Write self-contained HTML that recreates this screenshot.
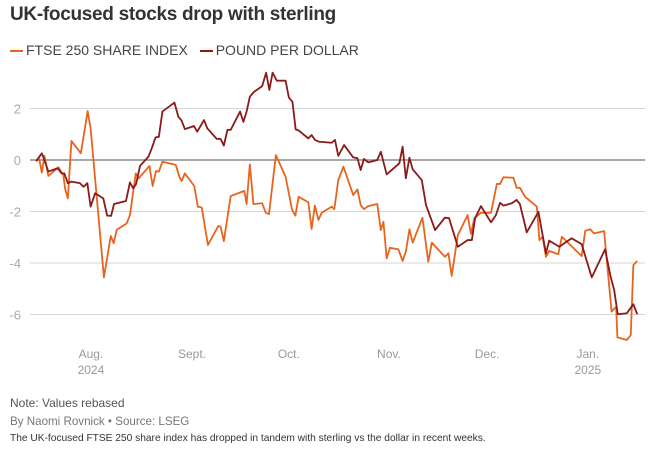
<!DOCTYPE html>
<html><head><meta charset="utf-8">
<style>
body{margin:0;background:#fff;width:665px;height:453px;overflow:hidden;font-family:"Liberation Sans",sans-serif;}
svg{position:absolute;left:0;top:0}
.t{position:absolute;left:10px;white-space:nowrap}
</style></head><body>
<div class="t" style="top:4px;font-size:19px;font-weight:bold;color:#333;letter-spacing:-0.3px">UK-focused stocks drop with sterling</div>
<div class="t" style="top:42px;font-size:14px;color:#444">
<span><span style="display:inline-block;width:13px;height:2px;background:#e8641e;vertical-align:middle;margin-right:3px"></span>FTSE 250 SHARE INDEX</span>
<span style="margin-left:8px"><span style="display:inline-block;width:13px;height:2px;background:#8b1a1a;vertical-align:middle;margin-right:3px"></span>POUND PER DOLLAR</span>
</div>
<div class="t" style="top:396px;font-size:12px;color:#555">Note: Values rebased</div>
<div class="t" style="top:415px;font-size:11.6px;color:#777">By Naomi Rovnick • Source: LSEG</div>
<div class="t" style="top:433px;font-size:10.2px;color:#333">The UK-focused FTSE 250 share index has dropped in tandem with sterling vs the dollar in recent weeks.</div>
<svg id="chart" width="665" height="453"></svg>
<script>
const yTicks=[2,0,-2,-4,-6];
const monthLabels=["Aug.","Sept.","Oct.","Nov.","Dec.","Jan."];
const monthYears=["2024","","","","","2025"];
const monthDays=[16.9,48,77.8,108.6,138.8,169.8];
const ftseDays=[0,1,1.8,2.6,3.8,6.9,8.4,9,9.8,10.9,13.8,15.9,16.8,20.9,23,23.9,24.8,27.9,28.9,30.7,31.6,34.9,35.9,36.9,37.8,38.9,43,44.1,44.8,45.8,48.7,49.8,51,52.9,56.1,56.8,57.8,59.9,64.1,64.8,65.8,66.9,69.6,70.7,71.7,73.8,76.8,78.8,79.8,80.8,83.8,84.8,85.8,86.9,87.9,91,91.8,93,94.6,97.6,98.9,99.9,100.9,102.2,105,106.1,106.9,107.9,108.9,111.5,112.8,113.8,114.9,115.9,118.9,120.7,121.8,125.8,126.9,127.9,129.8,132.8,133.8,134.9,136.9,140,141.8,142.8,143.8,146.9,147.9,148.9,150.5,154.1,154.9,155.9,156.9,157.9,160.7,161.8,167.9,169,170.5,171.7,174.8,177.1,178.5,178.9,181.8,183,183.8,185];
const ftseValues=[-0.04,0.03,-0.49,0.16,-0.62,-0.28,-0.58,-1.14,-1.49,0.74,0.26,1.9,1.23,-4.56,-2.95,-3.23,-2.72,-2.46,-2.14,-0.52,-0.71,-0.23,-1.01,-0.43,-0.45,-0.07,-0.19,-0.65,-0.82,-0.52,-1.01,-1.81,-1.85,-3.3,-2.56,-2.59,-3.15,-1.4,-1.2,-1.71,-0.17,-1.71,-1.68,-2.05,-2.1,0.19,-0.65,-1.94,-2.16,-1.43,-1.64,-2.68,-1.77,-2.33,-2.05,-1.81,-1.91,-0.78,-0.26,-1.36,-1.14,-1.75,-1.91,-1.79,-1.71,-2.72,-2.4,-3.82,-3.41,-3.47,-3.92,-3.56,-2.69,-3.21,-2.24,-3.95,-3.21,-3.76,-3.62,-4.5,-2.91,-2.14,-2.87,-2.26,-2.05,-2.05,-0.93,-0.93,-0.67,-0.69,-1.08,-1.08,-1.43,-1.81,-3.11,-2.98,-3.76,-3.53,-3.66,-2.98,-3.73,-2.75,-2.69,-2.85,-2.76,-5.89,-5.7,-6.89,-6.99,-6.8,-4.08,-3.92];
const poundDays=[0,0.7,1.8,2.6,3.8,6.6,7.9,8.7,9.8,10.8,13.5,14.6,15.8,16.8,18.2,20.7,21.9,23.1,24,27.7,28.9,29.9,30.8,32,34.6,35.6,36.8,37.8,38.9,42.6,43.8,44.8,45.8,48.6,49.6,51.7,52.7,55.6,56.8,57.8,58.9,59.9,62.8,63.8,64.8,65.8,67.1,69.6,70.8,71.8,72.8,74.1,76.8,77.8,78.9,79.9,80.9,83.8,84.8,85.8,87.1,91,92,93,94.8,97.6,98.9,99.9,100.9,102.2,105,106.1,107.9,111.8,112.8,113.8,114.9,115.9,118.7,120,122.8,125.8,127.1,129.8,132.8,134.1,135.1,136.9,140,141.5,142.8,143.8,146.4,147.9,148.9,151,154.6,155.6,156.9,157.9,161,164.8,167.9,171,175.1,176.8,177.9,179,181.8,183.8,185];
const poundValues=[-0.04,0.07,0.26,0,-0.45,-0.32,-0.52,-0.52,-0.9,-0.84,-0.9,-1.04,-0.9,-1.81,-1.29,-1.49,-2.16,-2.17,-1.71,-1.59,-0.87,-1.1,-0.93,-0.23,0.13,0.45,0.88,0.9,1.88,2.23,1.68,1.53,1.2,1.32,1.1,1.55,1.23,0.82,0.82,0.56,1.17,1.17,1.88,1.48,1.88,2.46,2.65,2.87,3.39,2.72,3.39,3.08,3.08,2.43,2.26,1.19,1.14,0.84,0.97,0.78,0.71,0.67,0.78,0.16,0.58,0.1,0.07,-0.39,0.04,-0.09,0,0.32,-0.56,-0.13,0.52,-0.71,0.09,-0.36,-0.78,-1.75,-2.72,-2.24,-2.26,-3.37,-3.11,-3.11,-2.26,-1.79,-2.42,-2.14,-1.66,-1.77,-1.68,-1.55,-1.71,-2.81,-2.01,-2.72,-3.62,-3.13,-3.37,-3.04,-3.27,-4.56,-3.47,-4.53,-5.05,-5.99,-5.95,-5.6,-5.99];

const svg=document.getElementById('chart');
const NS='http://www.w3.org/2000/svg';
const xS=d=>36+d*3.25;
const yS=v=>160-v*25.75;
function mk(tag,attrs){const e=document.createElementNS(NS,tag);for(const k in attrs)e.setAttribute(k,attrs[k]);svg.appendChild(e);return e;}
yTicks.forEach(t=>{
  const l=mk('line',{x1:30,x2:645,y1:yS(t),y2:yS(t),stroke:t===0?'#8a8a8a':'#d6d6d6','stroke-width':t===0?1.5:1});
  
  
  const tx=mk('text',{x:21,y:yS(t)+5,'text-anchor':'end','font-size':13,fill:'#aaa','font-family':'Liberation Sans, sans-serif'});
  tx.textContent=t;
  
  
});
monthLabels.forEach((m,i)=>{
  const tx=mk('text',{x:xS(monthDays[i]),y:358,'text-anchor':'middle','font-size':12,fill:'#999','font-family':'Liberation Sans, sans-serif'});
  tx.textContent=m;
  
  
  if(monthYears[i]){
    const ty=mk('text',{x:xS(monthDays[i]),y:374,'text-anchor':'middle','font-size':12,fill:'#999','font-family':'Liberation Sans, sans-serif'});
    ty.textContent=monthYears[i];
    
    
  }
});
function line(days,vals,color,name){
  const p=mk('polyline',{points:days.map((d,i)=>xS(d)+','+yS(vals[i])).join(' '),fill:'none',stroke:color,'stroke-width':1.8,'stroke-linejoin':'round'});
  
  
}
line(ftseDays,ftseValues,'#e8641e','ftse-250-line');
line(poundDays,poundValues,'#8b1a1a','pound-per-dollar-line');
</script>
</body></html>
